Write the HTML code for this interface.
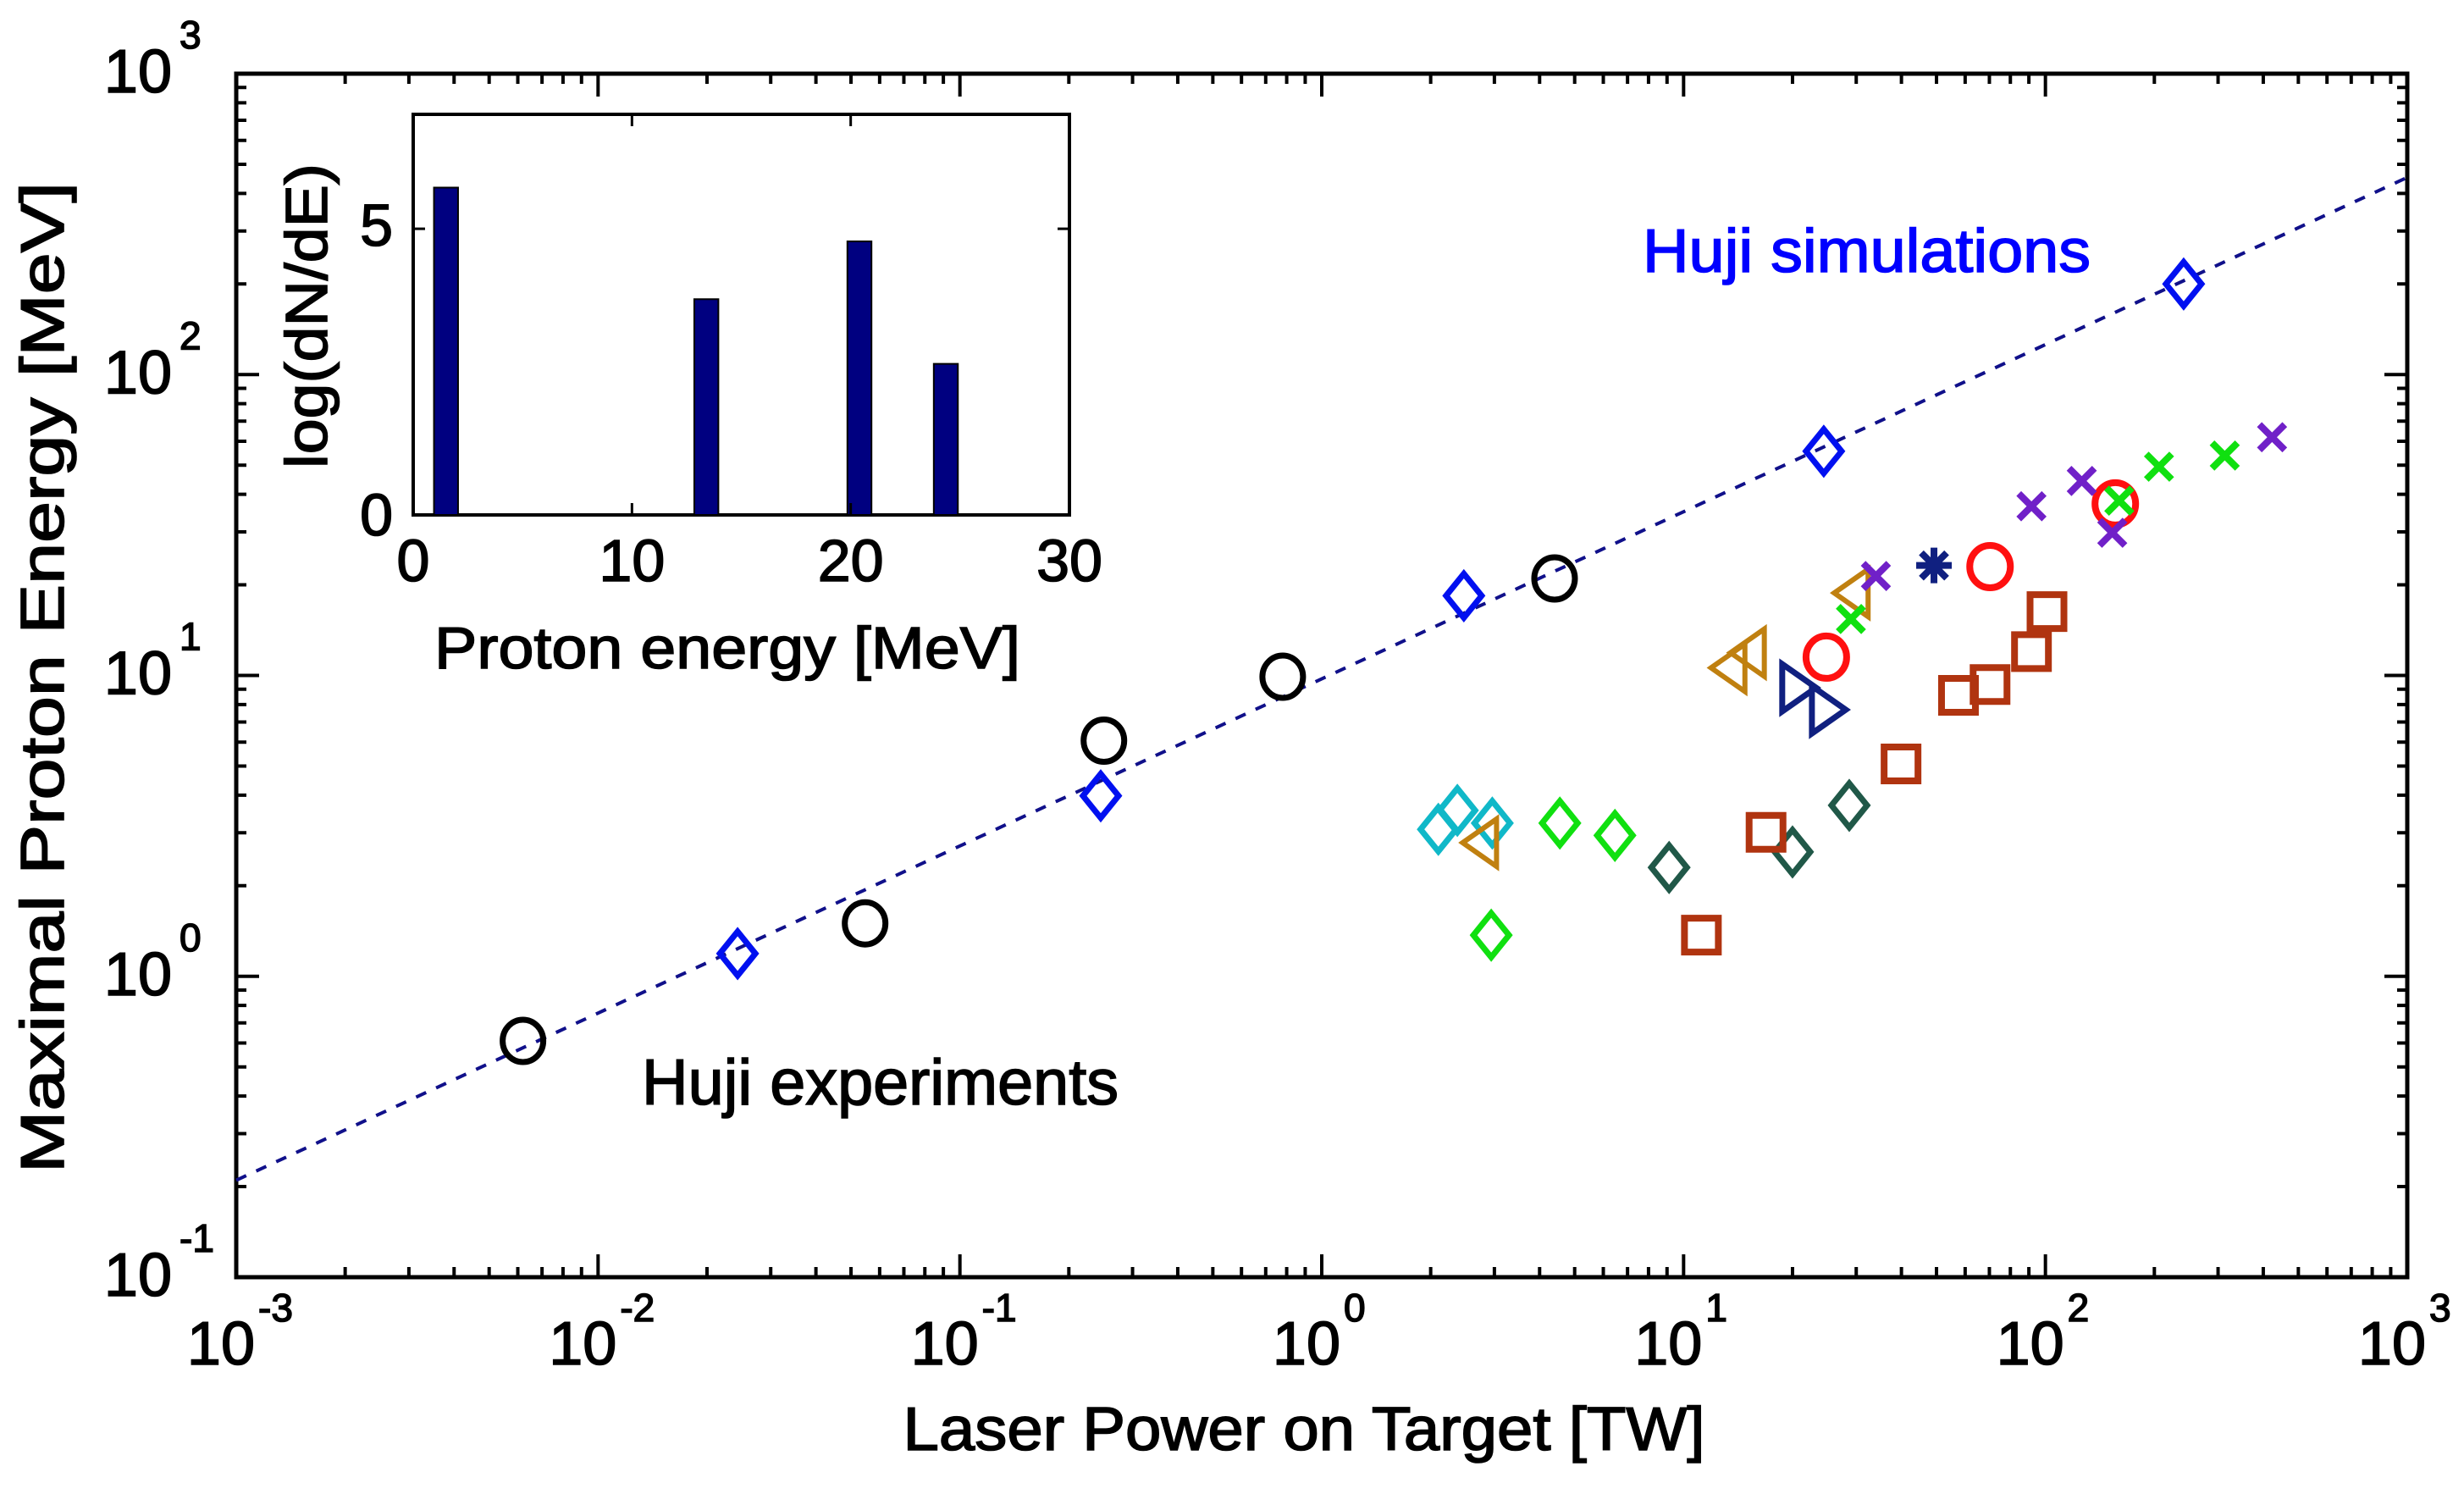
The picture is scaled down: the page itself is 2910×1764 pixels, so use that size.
<!DOCTYPE html>
<html><head><meta charset="utf-8"><style>
html,body{margin:0;padding:0;background:#fff;}
svg{display:block;font-family:"Liberation Sans",Arial,sans-serif;}
svg text{stroke:currentColor;stroke-width:1.6px;}
</style></head><body>
<svg id="chart" width="2910" height="1764" viewBox="0 0 2910 1764">
<rect x="0" y="0" width="2910" height="1764" fill="#fff"/>
<g id="grid"></g>
<g id="marks"></g>
<g id="inset"></g>
<text x="56" y="800" transform="rotate(-90 56 800)" text-anchor="middle" font-size="72" dominant-baseline="middle" textLength="1170" lengthAdjust="spacingAndGlyphs">Maximal Proton Energy [MeV]</text>
<text x="1540" y="1712" text-anchor="middle" font-size="72" textLength="947" lengthAdjust="spacingAndGlyphs">Laser Power on Target [TW]</text>
<text x="1940" y="321" font-size="72" fill="#0000ff" style="color:#0000ff" textLength="529" lengthAdjust="spacingAndGlyphs">Huji simulations</text>
<text x="758" y="1304" font-size="76" fill="#000" textLength="563" lengthAdjust="spacingAndGlyphs">Huji experiments</text>
</svg>
<script>
// ---- main chart data ----
const xDecades = [-3,-2,-1,0,1,2,3];
const yDecades = [-1,0,1,2,3];
const expPower = [0.0062,0.0547,0.25,0.78,4.4];
const expEnergy = [0.61,1.5,6.07,9.9,21];
const simPower = [0.0243,0.245,2.47,24.4,241];
const simEnergy = [1.19,3.98,18.4,55.6,200];
const linePower = [0.001,1000];
const lineEnergy = [0.21,452];
const cyanPower = [2.10,2.37,2.96];
const cyanEnergy = [3.08,3.56,3.23];
const greenDiaPower = [4.55,6.46,2.94];
const greenDiaEnergy = [3.23,2.94,1.37];
const dkDiaPower = [9.12,20.0,28.7];
const dkDiaEnergy = [2.30,2.59,3.70];
const sqPower = [11.2,16.9,39.9,57.5,70.3,91.5,101];
const sqEnergy = [1.37,3.01,5.08,8.59,9.33,12.0,16.3];
const triLPower = [2.82,13.7,15.5,30.0];
const triLEnergy = [2.78,10.6,11.9,18.8];
const triRPower = [20.2,24.4];
const triREnergy = [9.10,7.69];
const redCircPower = [24.8,70.3,156];
const redCircEnergy = [11.5,23.0,37.2];
const greenXPower = [29.0,160,206,313];
const greenXEnergy = [15.4,38.1,49.4,53.8];
const purpleXPower = [34.0,91.5,126,153,423];
const purpleXEnergy = [21.4,36.5,44.3,29.8,61.9];
const starPower = [49.2];
const starEnergy = [23.2];
// ---- inset data ----
const insetBinE = [1.5,13.4,20.4,24.35];
const insetLogN = [5.72,3.77,4.78,2.64];
const insetXTicks = [0,10,20,30];
const insetYTicks = [0,5];

const NS='http://www.w3.org/2000/svg';
const L=279,R=2843,T=87,B=1508;
const xs=v=>L+(Math.log10(v)+3)/6*(R-L);
const ys=v=>B-(Math.log10(v)+1)/4*(B-T);
function mk(tag,attrs,parent){const e=document.createElementNS(NS,tag);for(const k in attrs)e.setAttribute(k,attrs[k]);parent.appendChild(e);return e;}
const grid=document.getElementById('grid'),marks=document.getElementById('marks'),inset=document.getElementById('inset');

let box=mk('rect',{x:L,y:T,width:R-L,height:B-T,fill:'none',stroke:'#000','stroke-width':5},grid);


xDecades.forEach((d,i)=>{
  for(let m=1;m<=9;m++){
    if(i===xDecades.length-1&&m>1)break;
    const x=xs(m*Math.pow(10,d));const len=m===1?27:12;
    let t=mk('path',{d:`M${x},${B}V${B-len}M${x},${T}V${T+len}`,stroke:'#000','stroke-width':4},grid);
    
    
  }
  const x=xs(Math.pow(10,d));
  let lb=mk('text',{x:x+22,y:1611,'text-anchor':'end','font-size':72},grid);lb.textContent='10';
  
  
  let ex=mk('text',{x:x+26,y:1560,'font-size':46},grid);ex.textContent=String(d);
  
  
});
yDecades.forEach((d,i)=>{
  for(let m=1;m<=9;m++){
    if(i===yDecades.length-1&&m>1)break;
    const y=ys(m*Math.pow(10,d));const len=m===1?27:12;
    let t=mk('path',{d:`M${L},${y}H${L+len}M${R},${y}H${R-len}`,stroke:'#000','stroke-width':4},grid);
    
    
  }
  const y=ys(Math.pow(10,d));
  let lb=mk('text',{x:203,y:y+22,'text-anchor':'end','font-size':72},grid);lb.textContent='10';
  
  
  let ex=mk('text',{x:212,y:y-30,'font-size':46},grid);ex.textContent=String(d);
  
  
});

let ln=mk('line',{x1:xs(linePower[0]),y1:ys(lineEnergy[0]),x2:xs(linePower[1]),y2:ys(lineEnergy[1]),stroke:'#10108a','stroke-width':4,'stroke-dasharray':'13 13'},marks);



function marker(type,x,y,color,sw,parent){
  let d;
  if(type==='circle') return mk('ellipse',{cx:x,cy:y,rx:24,ry:25,fill:'none',stroke:color,'stroke-width':sw},parent);
  if(type==='diamond') d=`M${x},${y-26}L${x+21},${y}L${x},${y+26}L${x-21},${y}Z`;
  if(type==='square') d=`M${x-20},${y-20}h40v40h-40Z`;
  if(type==='triL') d=`M${x-26},${y}L${x+14},${y-28}L${x+14},${y+28}Z`;
  if(type==='triR') d=`M${x+26},${y}L${x-14},${y-28}L${x-14},${y+28}Z`;
  if(type==='x') d=`M${x-15},${y-15}L${x+15},${y+15}M${x+15},${y-15}L${x-15},${y+15}`;
  if(type==='star') d=`M${x-21},${y}H${x+21}M${x},${y-21}V${y+21}M${x-15},${y-15}L${x+15},${y+15}M${x+15},${y-15}L${x-15},${y+15}`;
  return mk('path',{d:d,fill:'none',stroke:color,'stroke-width':sw,'stroke-linejoin':'miter'},parent);
}
function series(px,py,type,color,sw,name){
  px.forEach((p,i)=>{
    const m=marker(type,xs(p),ys(py[i]),color,sw,marks);
    
    
  });
}
series(expPower,expEnergy,'circle','#000',7,'huji-experiment-point');
series(simPower,simEnergy,'diamond','#0010f0',7,'huji-simulation-point');
series(cyanPower,cyanEnergy,'diamond','#10b8c8',7,'cyan-diamond-point');
series(greenDiaPower,greenDiaEnergy,'diamond','#10e010',7,'green-diamond-point');
series(dkDiaPower,dkDiaEnergy,'diamond','#205848',7,'dark-green-diamond-point');
series(sqPower,sqEnergy,'square','#b03410',8,'square-point');
series(triLPower,triLEnergy,'triL','#c08010',6,'orange-triangle-point');
series(triRPower,triREnergy,'triR','#102080',7,'navy-triangle-point');
series(redCircPower,redCircEnergy,'circle','#ff1010',8,'red-circle-point');
series(greenXPower,greenXEnergy,'x','#10e010',8,'green-x-point');
series(purpleXPower,purpleXEnergy,'x','#7020c8',8,'purple-x-point');
series(starPower,starEnergy,'star','#102080',8,'star-point');

const IL=488,IR=1263,IT=135,IB=608;
const ix=v=>IL+v/30*(IR-IL);
const iy=v=>IB-v/7*(IB-IT);
let ibg=mk('rect',{x:IL,y:IT,width:IR-IL,height:IB-IT,fill:'#fff',stroke:'#000','stroke-width':4},inset);


insetBinE.forEach((e,i)=>{
  const w=ix(1.1)-ix(0);
  const b=mk('rect',{x:ix(e)-w/2,y:iy(insetLogN[i]),width:w,height:IB-iy(insetLogN[i]),fill:'#000080',stroke:'#000','stroke-width':2},inset);
  
  
});
insetXTicks.forEach(v=>{
  const x=ix(v);
  let t=mk('path',{d:`M${x},${IB}V${IB-14}M${x},${IT}V${IT+14}`,stroke:'#000','stroke-width':3},inset);
  
  
  let lb=mk('text',{x:x,y:686,'text-anchor':'middle','font-size':70},inset);lb.textContent=String(v);
  
  
});
insetYTicks.forEach(v=>{
  const y=iy(v);
  let t=mk('path',{d:`M${IL},${y}H${IL+14}M${IR},${y}H${IR-14}`,stroke:'#000','stroke-width':3},inset);
  
  
  let lb=mk('text',{x:464,y:y+(v===0?24:20),'text-anchor':'end','font-size':70},inset);lb.textContent=String(v);
  
  
});
let ixt=mk('text',{x:859,y:789,'text-anchor':'middle','font-size':70,textLength:692,lengthAdjust:'spacingAndGlyphs'},inset);ixt.textContent='Proton energy [MeV]';


let iyt=mk('text',{x:386,y:373,'text-anchor':'middle','font-size':70,transform:'rotate(-90 386 373)',textLength:360,lengthAdjust:'spacingAndGlyphs'},inset);iyt.textContent='log(dN/dE)';


</script>
</body></html>
